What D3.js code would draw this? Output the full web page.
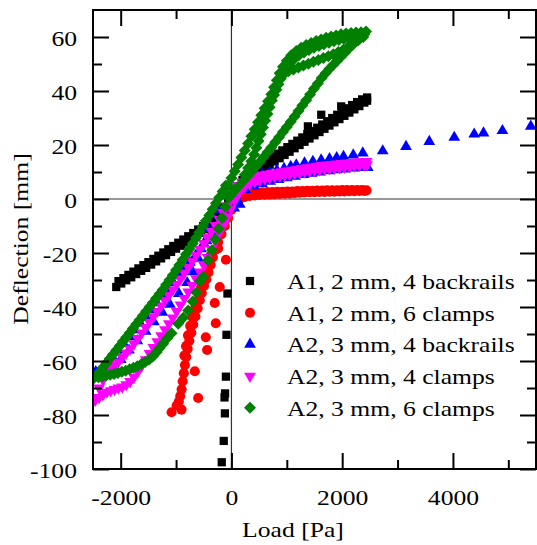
<!DOCTYPE html>
<html>
<head>
<meta charset="utf-8">
<script src="https://cdn.jsdelivr.net/npm/d3@7"></script>
<style>
  body { margin: 0; background: #fff; }
  svg text { font-family: "Liberation Serif", "Times New Roman", serif; font-size: 21px; fill: #000; }
</style>
</head>
<body>
<svg id="chart" width="537" height="545"></svg>
<script>
// ---- data: [load Pa, deflection mm] ----

// A1, 2 mm, 4 backrails
const blackNegLow = [[-2080,-32.6],[-1990,-31.3],[-1900,-30.1],[-1810,-29],[-1720,-27.8],[-1630,-26.6],[-1540,-25.5],[-1450,-24.3],[-1360,-23.1],[-1270,-22],[-1180,-20.8],[-1090,-19.6],[-1000,-18.4],[-910,-17.3],[-820,-16.1],[-730,-14.9],[-640,-13.7],[-550,-12.5],[-460,-11.2],[-370,-9.9],[-280,-8.4],[-190,-6.6],[-100,-4.4],[-20,-1.5]];
const blackNegHigh = [[-2040,-30.4],[-1950,-29.3],[-1860,-28.1],[-1770,-26.9],[-1680,-25.7],[-1590,-24.5],[-1500,-23.4],[-1410,-22.2],[-1320,-21],[-1230,-19.8],[-1140,-18.6],[-1050,-17.4],[-960,-16.2],[-870,-15],[-780,-13.8],[-690,-12.6],[-600,-11.3],[-510,-10],[-420,-8.6],[-330,-7],[-240,-5.2],[-150,-3],[-60,0]];
const blackPosLow = [[60,2],[150,4.2],[240,6],[330,7.5],[420,8.9],[510,10.2],[600,11.5],[690,12.7],[780,13.9],[870,15.1],[960,16.3],[1050,17.5],[1140,18.8],[1230,20],[1320,21.2],[1410,22.4],[1500,23.6],[1590,24.8],[1680,26],[1770,27.2],[1860,28.4],[1950,29.6],[2040,30.8],[2130,32],[2220,33.2],[2310,34.4],[2400,35.7],[2450,36.4]];
const blackPosHigh = [[2450,37.6],[2360,36.9],[2270,35.9],[2180,34.8],[2090,33.6],[2000,32.4],[1910,31.2],[1820,30],[1730,28.8],[1640,27.6],[1550,26.4],[1460,25.2],[1370,24],[1280,22.8],[1190,21.6],[1100,20.4],[1010,19.2],[920,18],[830,16.8],[740,15.6],[650,14.4],[560,13.2],[470,12],[380,10.6],[290,9],[200,7],[110,4.5]];
const blackSparse = [[1381,26.9],[1622,31.2],[1982,34.3]];
const blackDrop = [[-72,-35],[-90,-50.3],[-100,-65.8],[-115,-72],[-125,-73.5],[-118,-79.4],[-139,-89.6],[-175,-97.5]];

// A1, 2 mm, 6 clamps
const redPosHigh = [[200,2.2],[290,2.3],[380,2.4],[470,2.5],[560,2.5],[650,2.6],[740,2.6],[830,2.7],[920,2.7],[1010,2.8],[1100,2.8],[1190,2.9],[1280,2.9],[1370,3],[1460,3],[1550,3.1],[1640,3.1],[1730,3.2],[1820,3.2],[1910,3.2],[2000,3.3],[2090,3.3],[2180,3.3],[2270,3.3],[2360,3.3],[2440,3.2]];
const redPosLow = [[150,0],[240,0.8],[330,1.1],[420,1.3],[510,1.5],[600,1.6],[690,1.7],[780,1.8],[870,1.9],[960,2],[1050,2.1],[1140,2.2],[1230,2.3],[1320,2.4],[1410,2.5],[1500,2.5],[1590,2.6],[1680,2.6],[1770,2.7],[1860,2.7],[1950,2.8],[2040,2.8],[2130,2.9],[2220,2.9],[2310,3],[2400,3]];
const redNegBand = [[100,0.5],[50,-1.5],[0,-4],[-60,-7],[-120,-10],[-180,-13],[-240,-16],[-290,-18.8],[-335,-21.6],[-375,-24.4],[-415,-27.2],[-455,-29.8],[-495,-32.2],[-535,-34.8],[-572,-37.5],[-610,-40.5],[-650,-43.5],[-690,-46.5],[-725,-49.5],[-760,-52.5],[-790,-55.5],[-815,-58.5],[-840,-61.5],[-860,-64.5],[-880,-67.5],[-900,-70.5],[-925,-73],[-950,-75],[-990,-76.5],[-1081,-79],[-901,-78]];
const redNegBand2 = [[-850,-58],[-820,-54.5],[-785,-50.5],[-745,-47],[-705,-43.8],[-665,-40.8],[-625,-37.8],[-585,-35],[-545,-32.5],[-505,-30],[-465,-27.2],[-425,-24.2],[-385,-21.2]];
const redSparse = [[-241,-18.3],[-100,-22.5],[-211,-32.6],[-301,-38.5],[-283,-46],[-463,-51.2],[-439,-55.9],[-661,-63.8],[-601,-73.7]];

// A2, 3 mm, 4 backrails
const bluePosHigh = [[150,3.5],[250,6],[350,7.4],[450,8.3],[560,9.1],[690,9.8],[820,10.6],[950,11.3],[1070,12],[1171,12.6],[1320,13.3],[1471,13.9],[1620,14.4],[1771,14.9],[1900,15.3],[2024,15.7],[2200,16.3],[2372,17],[2732,17.8],[3153,19.4],[3573,21.3],[4024,22.8],[4384,24],[4552,24.4],[4894,25.3],[5406,26.9]];
const bluePosLow = [[100,1.5],[250,3.5],[400,4.8],[550,5.7],[700,6.5],[850,7.2],[1000,7.8],[1150,8.4],[1300,9],[1450,9.5],[1600,10],[1750,10.4],[1900,10.8],[2050,11.1],[2200,11.4],[2350,11.6],[2462,11.6]];
const blueNegLeft = [[-2450,-66],[-2350,-63.5],[-2250,-61],[-2150,-58.5],[-2050,-56],[-1950,-53.5],[-1850,-51],[-1750,-48.5],[-1650,-46],[-1550,-43.5],[-1450,-41],[-1350,-38.5],[-1250,-36],[-1150,-33.5],[-1050,-31],[-950,-28.5],[-850,-26],[-750,-23.5],[-650,-21],[-550,-18.5],[-450,-15.5],[-350,-12.5],[-250,-9.5],[-150,-6.5],[-50,-3],[50,0]];
const blueNegRight = [[-2450,-64],[-2300,-63.5],[-2150,-62],[-2000,-59.5],[-1850,-56],[-1700,-52.5],[-1550,-49],[-1400,-45.5],[-1250,-42],[-1112,-39],[-950,-35],[-800,-31],[-700,-27],[-600,-22],[-500,-16.5],[-420,-11],[-360,-6],[-250,-4],[-100,-3.7],[50,-3.4],[150,-2]];

// A2, 3 mm, 4 clamps
const magentaPosLow = [[150,3],[240,4.6],[330,5.6],[420,6.3],[510,6.9],[600,7.4],[690,7.8],[780,8.2],[870,8.5],[960,8.8],[1050,9.1],[1140,9.4],[1230,9.7],[1320,10],[1410,10.3],[1500,10.6],[1590,10.8],[1680,11],[1770,11.2],[1860,11.4],[1950,11.6],[2040,11.8],[2130,12],[2220,12.2],[2310,12.4],[2400,12.6],[2450,12.7]];
const magentaPosHigh = [[100,5],[190,6.3],[280,7.3],[370,8],[460,8.5],[550,8.9],[640,9.2],[730,9.5],[820,9.8],[910,10.1],[1000,10.4],[1090,10.7],[1180,11],[1270,11.3],[1360,11.6],[1450,11.9],[1540,12.2],[1630,12.4],[1720,12.6],[1810,12.8],[1900,13],[1990,13.2],[2080,13.4],[2170,13.6],[2260,13.7],[2350,13.8],[2440,13.9]];
const magentaNegLeft = [[-2460,-74],[-2390,-70],[-2320,-67],[-2250,-64.5],[-2180,-62.5],[-2110,-61.5],[-2040,-60.3],[-1970,-58.6],[-1900,-57],[-1830,-55.4],[-1760,-53.6],[-1690,-51.6],[-1620,-49.6],[-1550,-47.6],[-1480,-45.6],[-1410,-43.6],[-1340,-41.6],[-1270,-39.6],[-1200,-37.6],[-1130,-35.6],[-1060,-33.6],[-990,-31.6],[-920,-29.6],[-850,-27.4],[-780,-25.2],[-710,-23],[-640,-20.8],[-570,-18.6],[-500,-16.4],[-430,-14.2],[-360,-12],[-290,-9.8],[-220,-7.5],[-150,-5],[-80,-2.5],[-10,0.5],[60,3]];
const magentaNegRight = [[-2460,-74.5],[-2390,-73.5],[-2320,-72.5],[-2250,-71.5],[-2180,-71],[-2110,-70.5],[-2040,-70],[-1970,-69.6],[-1900,-68.8],[-1830,-67.6],[-1760,-66],[-1690,-64],[-1620,-61.8],[-1550,-59.5],[-1480,-57.2],[-1410,-55],[-1340,-52.8],[-1270,-50.6],[-1200,-48.4],[-1130,-46.2],[-1060,-44],[-990,-41.6],[-920,-39.2],[-850,-36.8],[-780,-34.4],[-710,-32],[-640,-29.5],[-570,-27],[-500,-24.4],[-430,-21.6],[-360,-18.6],[-290,-15.6],[-220,-12.6],[-150,-9.8],[-80,-6.8],[-10,-3.6],[60,-0.5],[130,2]];

// A2, 3 mm, 6 clamps
const greenOuter = [[-60,5],[0,7.8],[60,10.3],[120,12.8],[180,15.4],[240,18],[300,20.6],[360,23.2],[420,25.8],[480,28.4],[540,31],[600,33.6],[660,36.2],[720,38.8],[770,41.4],[820,44],[870,46.6],[930,49],[1000,51.2],[1080,53.2],[1170,54.8],[1260,56],[1350,57],[1440,57.8],[1530,58.5],[1620,59.1],[1710,59.7],[1800,60.2],[1890,60.6],[1980,61],[2070,61.3],[2160,61.5],[2250,61.7],[2340,61.8],[2430,62]];
const greenOuterInner = [[950,47.5],[1040,50],[1130,51.8],[1220,53.2],[1310,54.3],[1400,55.2],[1490,56],[1580,56.7],[1670,57.3],[1760,57.9],[1850,58.4],[1940,58.9],[2030,59.3],[2120,59.7],[2210,60],[2300,60.3]];
const greenSecond = [[2380,60],[2290,58.8],[2200,57.6],[2110,56.4],[2020,55.3],[1930,54.4],[1840,53.6],[1750,52.9],[1660,52.2],[1570,51.5],[1480,50.8],[1390,50.1],[1300,49.4],[1210,48.7],[1120,48],[1030,47.3],[950,46.3],[890,44.5],[850,42.5],[810,40.5],[770,38.5],[730,36.5],[690,34],[650,31.5],[610,29],[570,26.5],[530,24],[490,21.5],[450,19],[410,16.5],[360,14],[300,11.5],[240,9]];
const greenReturn = [[2400,61],[2330,59.8],[2260,58.5],[2190,57.1],[2120,55.7],[2050,54.2],[1980,52.7],[1910,51.2],[1840,49.7],[1770,48.2],[1700,46.6],[1630,44.8],[1560,42.8],[1490,40.8],[1420,38.7],[1350,36.6],[1280,34.6],[1210,32.6],[1140,30.6],[1070,28.6],[1000,26.7],[930,24.8],[860,22.9],[790,21],[720,19.1],[650,17.3],[580,15.5],[510,13.7],[440,12],[370,10.3],[300,8.6],[230,7],[160,5.4],[90,3.8],[20,2.2],[-50,0.5]];
const greenNegOuter = [[-100,5],[-160,2.8],[-220,0.6],[-280,-1.6],[-340,-3.8],[-400,-6],[-460,-8.1],[-520,-10.2],[-580,-12.3],[-640,-14.4],[-700,-16.5],[-760,-18.5],[-820,-20.5],[-880,-22.5],[-940,-24.4],[-1000,-26.3],[-1060,-28.2],[-1120,-30],[-1180,-31.8],[-1240,-33.6],[-1300,-35.2],[-1360,-36.8],[-1420,-38.4],[-1480,-40],[-1540,-41.6],[-1600,-43.2],[-1660,-44.8],[-1720,-46.4],[-1780,-48],[-1840,-49.6],[-1900,-51.2],[-1960,-52.8],[-2020,-54.4],[-2080,-56],[-2140,-57.6],[-2200,-59.2],[-2260,-60.8],[-2320,-62.4],[-2380,-64],[-2440,-65.4],[-2490,-66.5]];
const greenNegInner = [[-50,1],[-110,-3],[-170,-7],[-230,-11],[-290,-15],[-350,-19],[-421,-22.7],[-511,-28.9],[-571,-30.5],[-631,-34.6],[-700,-38],[-781,-41.3],[-870,-44],[-962,-46.2],[-1081,-49.7],[-1160,-51.6],[-1232,-53.6],[-1300,-55.3],[-1352,-56.8],[-1420,-58.3],[-1490,-59.5],[-1560,-60.4],[-1630,-61.2],[-1700,-61.9],[-1770,-62.5],[-1840,-63.1],[-1910,-63.6],[-1980,-64],[-2050,-64.4],[-2120,-64.8],[-2190,-65.1],[-2260,-65.4],[-2330,-65.7],[-2400,-66]];

const seriesNames = ["A1, 2 mm, 4 backrails", "A1, 2 mm, 6 clamps", "A2, 3 mm, 4 backrails", "A2, 3 mm, 4 clamps", "A2, 3 mm, 6 clamps"];
const seriesColors = ["#000000", "#ff0000", "#0000ff", "#ff00ff", "#008000"];
const seriesPoints = [
  [].concat(blackNegLow, blackNegHigh, blackPosLow, blackPosHigh, blackSparse, blackDrop),
  [].concat(redPosHigh, redPosLow, redNegBand, redNegBand2, redSparse),
  [].concat(bluePosHigh, bluePosLow, blueNegLeft, blueNegRight),
  [].concat(magentaPosLow, magentaPosHigh, magentaNegLeft, magentaNegRight),
  [].concat(greenOuter, greenOuterInner, greenSecond, greenReturn, greenNegOuter, greenNegInner)
];

const xMajor = [-2000, 0, 2000, 4000];
const xMinor = [-1000, 1000, 3000, 5000];
const yMajor = [-100, -80, -60, -40, -20, 0, 20, 40, 60];
const yMinor = [-90, -70, -50, -30, -10, 10, 30, 50];

// ---- chart ----
const pLeft = 93, pRight = 536, pTop = 10, pBottom = 469;
const stretch = 1.22;

const svg = d3.select("#chart");
const x = d3.scaleLinear().domain([-2500, 5500]).range([pLeft, pRight]);
const y = d3.scaleLinear().domain([-100, 70]).range([pBottom, pTop]);

svg.append("defs").append("clipPath").attr("id", "plot")
  .append("rect").attr("x", pLeft).attr("y", pTop).attr("width", pRight - pLeft).attr("height", pBottom - pTop);

// zero lines
svg.append("line").attr("x1", x(0)).attr("x2", x(0)).attr("y1", pTop).attr("y2", pBottom)
  .attr("stroke", "#333").attr("stroke-width", 1.2);
svg.append("line").attr("x1", pLeft).attr("x2", pRight).attr("y1", y(0)).attr("y2", y(0))
  .attr("stroke", "#333").attr("stroke-width", 1.2);

// markers: square, circle, triangle up, triangle down, diamond
const markers = [
  { type: d3.symbolSquare, size: 68, rot: 0 },
  { type: d3.symbolCircle, size: 80, rot: 0 },
  { type: d3.symbolTriangle, size: 60, rot: 0 },
  { type: d3.symbolTriangle, size: 60, rot: 180 },
  { type: d3.symbolSquare, size: 72, rot: 45 }
];

const plot = svg.append("g").attr("clip-path", "url(#plot)");
seriesPoints.forEach((pts, i) => {
  const mk = markers[i];
  plot.append("g").attr("fill", seriesColors[i])
    .selectAll("path").data(pts).join("path")
    .attr("transform", d => `translate(${x(d[0])},${y(d[1])}) rotate(${mk.rot})`)
    .attr("d", d3.symbol().type(mk.type).size(mk.size));
});

// axes (ticks point inward)
function styleAxis(g) {
  g.select(".domain").remove();
  g.selectAll(".tick line").attr("stroke-width", 2);
}
const fmt = d => String(d);
svg.append("g").attr("transform", `translate(0,${pBottom})`)
  .call(d3.axisBottom(x).tickValues(xMajor).tickSize(-16).tickPadding(21).tickFormat(fmt)).call(styleAxis);
svg.append("g").attr("transform", `translate(0,${pBottom})`)
  .call(d3.axisBottom(x).tickValues(xMinor).tickSize(-9).tickFormat("")).call(styleAxis);
svg.append("g").attr("transform", `translate(0,${pTop})`)
  .call(d3.axisTop(x).tickValues(xMajor).tickSize(-16).tickFormat("")).call(styleAxis);
svg.append("g").attr("transform", `translate(0,${pTop})`)
  .call(d3.axisTop(x).tickValues(xMinor).tickSize(-9).tickFormat("")).call(styleAxis);
const yl = svg.append("g").attr("transform", `translate(${pLeft},0)`)
  .call(d3.axisLeft(y).tickValues(yMajor).tickSize(-16).tickPadding(16).tickFormat(fmt)).call(styleAxis);
yl.selectAll(".tick text").attr("dy", "0.4em");
svg.append("g").attr("transform", `translate(${pLeft},0)`)
  .call(d3.axisLeft(y).tickValues(yMinor).tickSize(-9).tickFormat("")).call(styleAxis);
svg.append("g").attr("transform", `translate(${pRight},0)`)
  .call(d3.axisRight(y).tickValues(yMajor).tickSize(-16).tickFormat("")).call(styleAxis);
svg.append("g").attr("transform", `translate(${pRight},0)`)
  .call(d3.axisRight(y).tickValues(yMinor).tickSize(-9).tickFormat("")).call(styleAxis);

// frame
svg.append("rect").attr("x", pLeft).attr("y", pTop).attr("width", pRight - pLeft).attr("height", pBottom - pTop)
  .attr("fill", "none").attr("stroke", "#000").attr("stroke-width", 2);

// axis titles
svg.append("text").attr("x", 293).attr("y", 537).attr("text-anchor", "middle").text("Load [Pa]");
svg.append("text").attr("transform", "translate(28,239) rotate(-90)").attr("text-anchor", "middle").text("Deflection [mm]");

// legend
const legend = svg.append("g");
seriesNames.forEach((name, i) => {
  const by = 289 + i * 31.7;
  const mk = markers[i];
  legend.append("path")
    .attr("transform", `translate(250,${by - 8}) rotate(${mk.rot})`)
    .attr("d", d3.symbol().type(mk.type).size(mk.size))
    .attr("fill", seriesColors[i]);
  legend.append("text").attr("x", 287).attr("y", by).text(name);
});

// the original lettering is wider than Times: stretch along the baseline
svg.selectAll("text").each(function () {
  const w = this.getComputedTextLength();
  if (w > 0) d3.select(this).attr("textLength", w * stretch).attr("lengthAdjust", "spacingAndGlyphs");
});
</script>
</body>
</html>
